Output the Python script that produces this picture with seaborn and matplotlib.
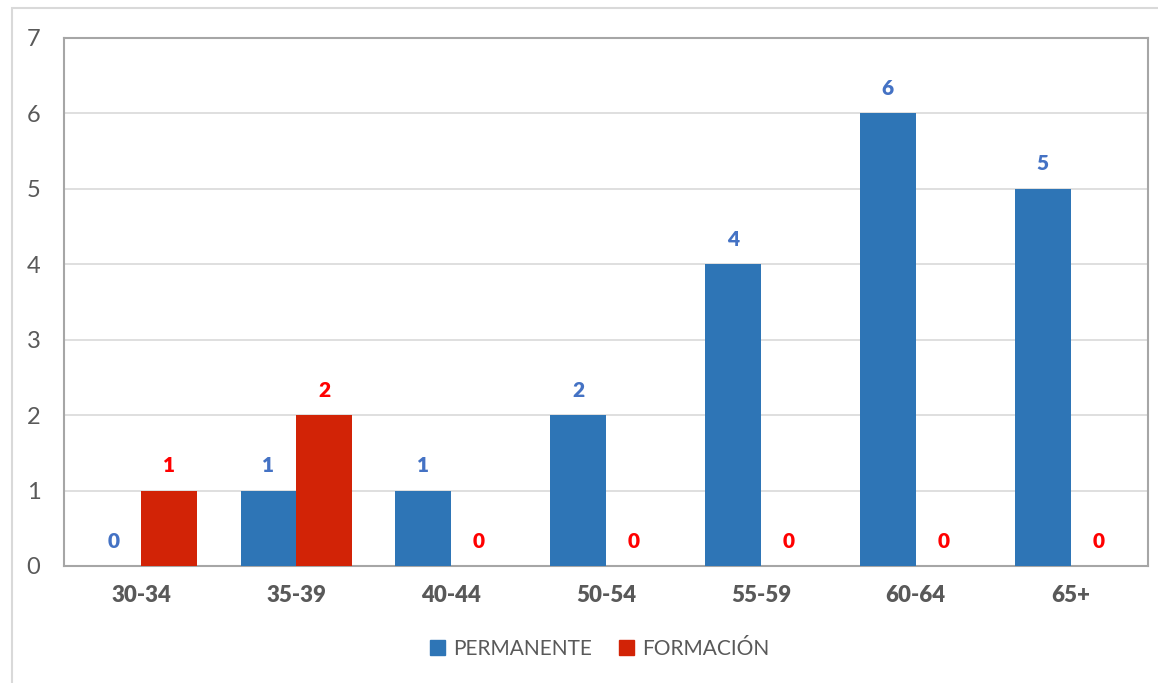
import pandas as pd
import matplotlib.pyplot as plt
import matplotlib.patches as mpatches
import seaborn as sns

# Data
age_groups = ['30-34', '35-39', '40-44', '50-54', '55-59', '60-64', '65+']
permanente = [0, 1, 1, 2, 4, 6, 5]
formacion = [1, 2, 0, 0, 0, 0, 0]
series_names = ['PERMANENTE', 'FORMACIÓN']

bar_colors = ['#2E75B6', '#D22306']
label_colors = ['#4472C4', '#FF0000']

df = pd.DataFrame({
    'grupo': age_groups * 2,
    'valor': permanente + formacion,
    'serie': [series_names[0]] * len(age_groups) + [series_names[1]] * len(age_groups),
})

sns.set_style('white')
plt.rcParams['font.family'] = ['Lato', 'DejaVu Sans']

fig = plt.figure(figsize=(11.58, 6.83), dpi=100)
ax = fig.add_axes([64 / 1158, 1 - 566 / 683, (1148 - 64) / 1158, (566 - 38) / 683])

sns.barplot(data=df, x='grupo', y='valor', hue='serie', palette=bar_colors,
            width=0.72, saturation=1, ax=ax, legend=False, zorder=3, linewidth=0)

# value labels
for cont, col in zip(ax.containers, label_colors):
    for bar in cont:
        h = bar.get_height()
        ax.text(bar.get_x() + bar.get_width() / 2, h + 0.33, f'{int(h)}',
                ha='center', va='center', color=col, fontsize=15, fontweight='heavy')

ax.set_ylim(0, 7)
ax.set_xlim(-0.5, len(age_groups) - 0.5)
ax.set_yticks(range(0, 8))
ax.yaxis.grid(True, color='#D9D9D9', linewidth=1.2, zorder=0)
ax.set_xlabel('')
ax.set_ylabel('')
for s in ax.spines.values():
    s.set_color('#A6A6A6')
    s.set_linewidth(1.5)
ax.tick_params(axis='y', colors='#595959', labelsize=17, length=0, pad=17)
ax.tick_params(axis='x', colors='#595959', labelsize=16, length=0, pad=14)
for t in ax.get_xticklabels():
    t.set_fontweight('heavy')

handles = [mpatches.Patch(color=c, label=n) for c, n in zip(bar_colors, series_names)]
fig.legend(handles=handles, loc='center', bbox_to_anchor=(0.518, 1 - 649 / 683), ncol=2,
           frameon=False, fontsize=15, labelcolor='#595959', handlelength=0.7,
           handleheight=0.7, handletextpad=0.4, columnspacing=1.3)

# outer chart border
fig.patches.append(mpatches.Rectangle((12 / 1158, -0.1), 1.2, 1.1 - 8 / 683,
                                      transform=fig.transFigure, fill=False,
                                      edgecolor='#D9D9D9', linewidth=1.5))

fig.savefig('out.png', dpi=100)
